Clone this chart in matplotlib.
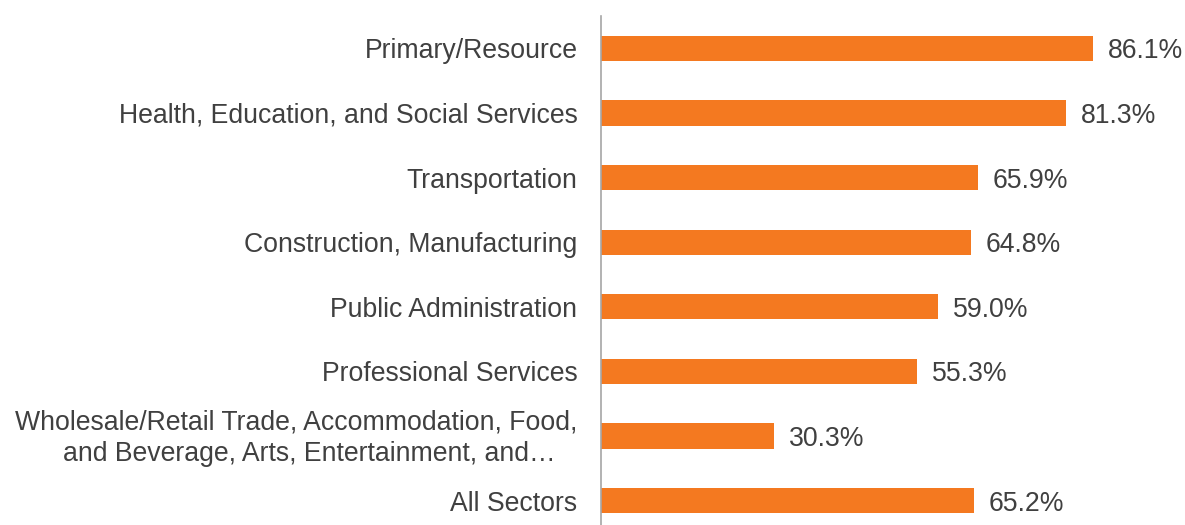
import matplotlib.pyplot as plt
import matplotlib.transforms as mtransforms

plt.rcParams['font.family'] = ['Liberation Sans', 'DejaVu Sans']

# Share of employers by sector
sectors = [
    'Primary/Resource',
    'Health, Education, and Social Services',
    'Transportation',
    'Construction, Manufacturing',
    'Public Administration',
    'Professional Services',
    'Wholesale/Retail Trade, Accommodation, Food,\nand Beverage, Arts, Entertainment, and\u2026   ',
    'All Sectors',
]
values = [86.1, 81.3, 65.9, 64.8, 59.0, 55.3, 30.3, 65.2]

bar_color = '#F47920'
text_color = '#404040'

fig = plt.figure(figsize=(11.85, 5.25), dpi=100)
ax = fig.add_axes([601 / 1185, -8 / 525, 571.4 / 1185, 517 / 525])

y = list(range(len(sectors)))
ax.barh(y, values, height=0.39, color=bar_color)
for yi, v in zip(y, values):
    ax.text(v + 2.6, yi, f'{v:.1f}%', va='center_baseline', ha='left',
            fontsize=19.2, color=text_color)

ax.set_xlim(0, 100)
ax.set_ylim(len(sectors) - 0.5, -0.5)
ax.set_yticks(y)
ax.set_yticklabels(sectors, fontsize=19.2, color=text_color, linespacing=1.3)
ax.tick_params(axis='y', length=0, pad=17)
ax.set_xticks([])
# nudge the two-line label down a little
shift = mtransforms.ScaledTranslation(0, -2 / 100, fig.dpi_scale_trans)
for lbl in ax.get_yticklabels():
    if '\n' in lbl.get_text():
        lbl.set_va('center')
        lbl.set_transform(lbl.get_transform() + shift)

for side in ['top', 'right', 'bottom']:
    ax.spines[side].set_visible(False)
ax.spines['left'].set_color('#A6A6A6')
ax.spines['left'].set_linewidth(1.2)

plt.savefig('out.png', dpi=100)
